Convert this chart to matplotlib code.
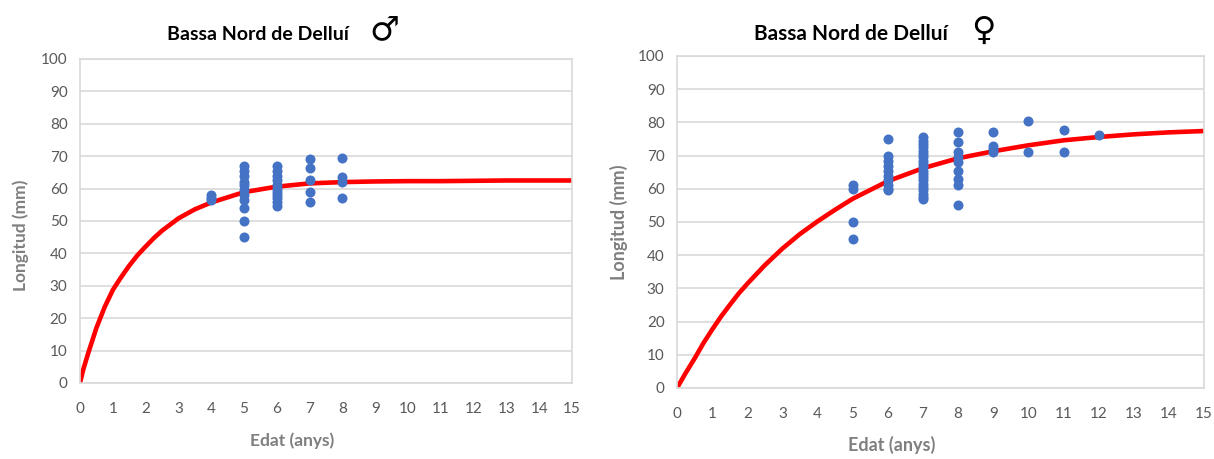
import numpy as np
import matplotlib
matplotlib.use('Agg')
import matplotlib.pyplot as plt

plt.rcParams['font.family'] = ['Lato', 'DejaVu Sans']

# Males: observed lengths (mm) by age (years)
male_age = [4, 4, 4,
            5, 5, 5, 5, 5, 5, 5, 5, 5, 5, 5,
            6, 6, 6, 6, 6, 6, 6, 6, 6, 6, 6,
            7, 7, 7, 7, 7,
            8, 8, 8, 8]
male_len = [58, 57, 56.5,
            45, 50, 54, 56.5, 58, 59.5, 61, 62, 64, 65.5, 67,
            67, 65.5, 64, 62.5, 61, 60, 59, 58, 57, 56, 54.5,
            69, 66.5, 62.5, 59, 56,
            69.5, 63.5, 62, 57]
# Males: fitted growth curve
male_curve_age = [0, 0.1, 0.25, 0.5, 0.75, 1, 1.25, 1.5, 1.75, 2, 2.25, 2.5, 3, 3.5, 4,
                  5, 6, 7, 8, 9, 10, 11, 12, 13, 14, 15]
male_curve_len = [0, 4.2, 9.2, 17.0, 23.4, 28.7, 32.6, 36.2, 39.4, 42.1, 44.7, 47.0, 50.8, 53.6, 55.7,
                  58.9, 60.6, 61.6, 62.0, 62.2, 62.3, 62.3, 62.4, 62.5, 62.5, 62.5]

# Females: observed lengths (mm) by age (years)
female_age = [5, 5, 5, 5,
              6, 6, 6, 6, 6, 6, 6, 6, 6, 6,
              7, 7, 7, 7, 7, 7, 7, 7, 7, 7, 7, 7, 7, 7, 7, 7, 7, 7, 7, 7,
              8, 8, 8, 8, 8, 8, 8, 8, 8,
              9, 9, 9, 9,
              10, 10,
              11, 11,
              12]
female_len = [61, 60, 50, 45,
              75, 70, 68.5, 67, 65.5, 64, 62.5, 61, 60, 59.5,
              75.5, 74.5, 73.5, 72.5, 71.5, 70.5, 69.5, 68.5, 67.5, 66.5, 65.5, 64.5, 63.5,
              62.5, 61.5, 60.5, 59.5, 58.5, 57.5, 57,
              77, 74, 71, 69.5, 68, 65.5, 63, 61, 55,
              77.2, 73, 72, 71,
              80.5, 71,
              77.7, 71,
              76.3]
female_curve_age = [0, 0.25, 0.5, 0.75, 1, 1.25, 1.5, 1.75, 2, 2.5, 3, 3.5, 4, 4.5, 5,
                    6, 7, 8, 9, 10, 11, 12, 13, 14, 15]
female_curve_len = [0, 4.6, 8.9, 13.5, 17.6, 21.5, 25.0, 28.4, 31.4, 37.0, 42.0, 46.4, 50.2, 53.7, 57.0,
                    62.3, 66.2, 69.2, 71.3, 73.1, 74.6, 75.6, 76.4, 77.0, 77.4]

x_ticks = list(range(0, 16))
y_ticks = list(range(0, 101, 10))

tick_color = '#595959'
label_color = '#7f7f7f'
grid_color = '#d9d9d9'
dot_color = '#4472c4'

fig = plt.figure(figsize=(12.14, 4.59), dpi=100)
fig.patch.set_facecolor('white')

ax1 = fig.add_axes([0.0659, 0.1656, 0.4053, 0.7059])
ax2 = fig.add_axes([0.5577, 0.1547, 0.4341, 0.7233])


def style_axes(ax):
    ax.set_xlim(0, 15)
    ax.set_ylim(0, 100)
    ax.set_xticks(x_ticks)
    ax.set_yticks(y_ticks)
    ax.yaxis.grid(True, color=grid_color, linewidth=1.2)
    ax.set_axisbelow(True)
    for s in ax.spines.values():
        s.set_color(grid_color)
        s.set_linewidth(1.2)
    ax.tick_params(length=0, labelsize=11, labelcolor=tick_color)
    ax.tick_params(axis='x', pad=14)
    ax.tick_params(axis='y', pad=9)


style_axes(ax1)
ax1.plot(male_curve_age, male_curve_len, color='#ff0000', linewidth=3.3, zorder=2,
         solid_capstyle='round', solid_joinstyle='round')
ax1.scatter(male_age, male_len, s=52, color=dot_color, zorder=3, linewidths=0)

style_axes(ax2)
ax2.plot(female_curve_age, female_curve_len, color='#ff0000', linewidth=3.3, zorder=2,
         solid_capstyle='round', solid_joinstyle='round')
ax2.scatter(female_age, female_len, s=52, color=dot_color, zorder=3, linewidths=0)

# titles
fig.text(258 / 1214, 1 - 34 / 459, 'Bassa Nord de Delluí', ha='center', va='center',
         fontsize=14, fontweight='bold', color='black')
fig.text(384 / 1214, 1 - 30 / 459, '\u2642', ha='center', va='center',
         fontsize=24, fontweight='bold', color='black', family='DejaVu Sans')
fig.text(851 / 1214, 1 - 34 / 459, 'Bassa Nord de Delluí', ha='center', va='center',
         fontsize=15, fontweight='bold', color='black')
fig.text(983 / 1214, 1 - 30 / 459, '\u2640', ha='center', va='center',
         fontsize=24, fontweight='bold', color='black', family='DejaVu Sans')

# axis labels
fig.text(292 / 1214, 1 - 441 / 459, 'Edat (anys)', ha='center', va='center',
         fontsize=12.5, fontweight='bold', color=label_color)
fig.text(892 / 1214, 1 - 445 / 459, 'Edat (anys)', ha='center', va='center',
         fontsize=13, fontweight='bold', color=label_color)
fig.text(21 / 1214, 1 - 235 / 459, 'Longitud (mm)', ha='center', va='center',
         rotation=90, fontsize=12.5, fontweight='bold', color=label_color)
fig.text(619 / 1214, 1 - 222 / 459, 'Longitud (mm)', ha='center', va='center',
         rotation=90, fontsize=13, fontweight='bold', color=label_color)

plt.savefig('out.png', dpi=100)
plt.close()
